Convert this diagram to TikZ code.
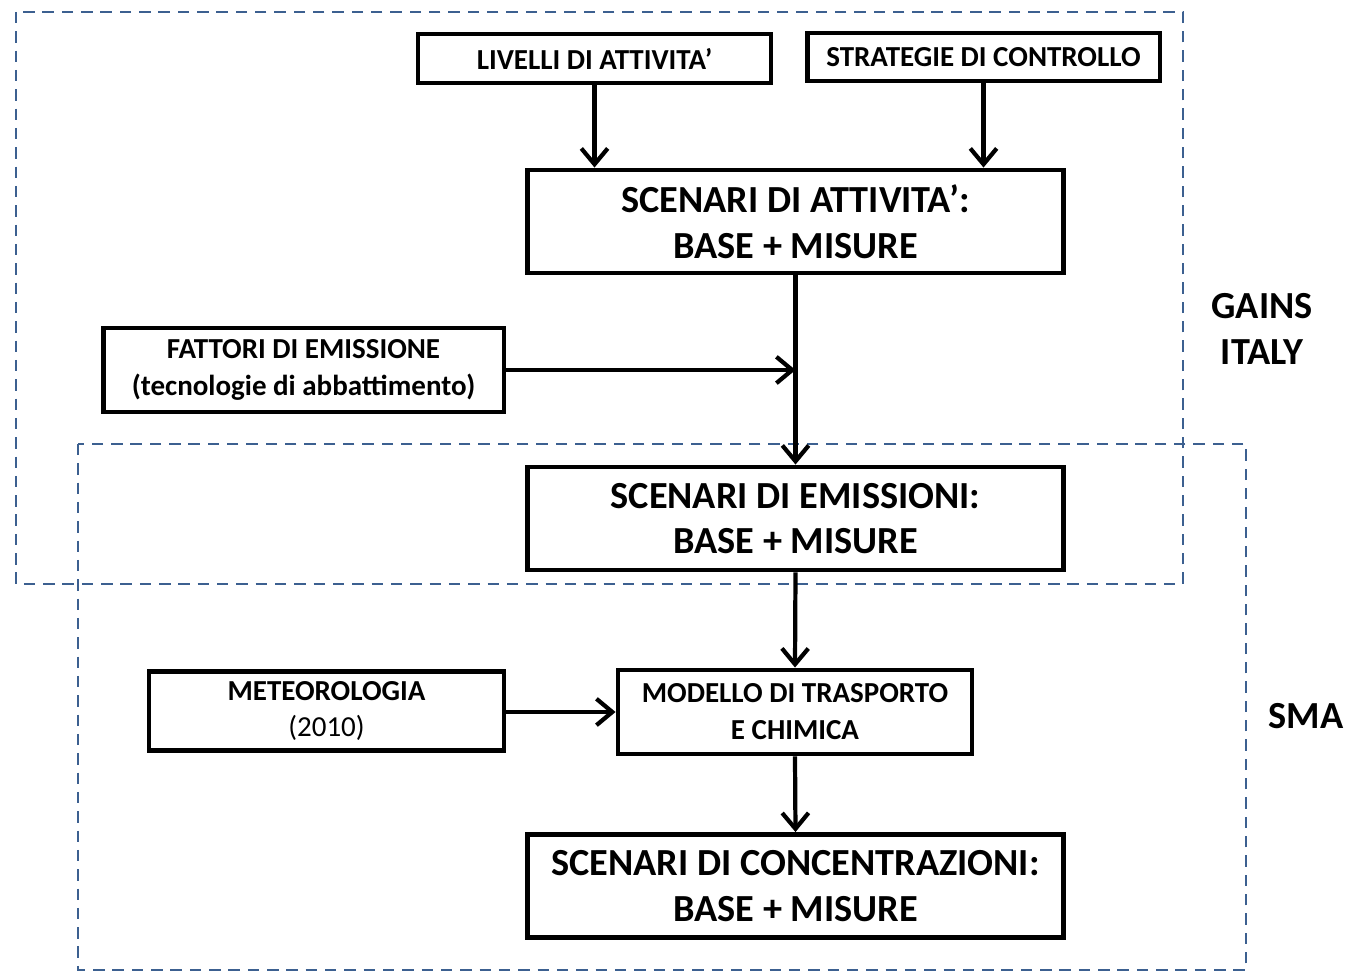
\documentclass[tikz,border=0pt]{standalone}
\usepackage{fontspec}
\setmainfont{Carlito}
\usetikzlibrary{arrows.meta}

\begin{document}
\begin{tikzpicture}[x=0.02cm, y=-0.02cm,
    box/.style={draw, line width=2.8pt, inner sep=0pt, align=center},
    bigbox/.style={box, minimum width=10.74cm, minimum height=2.06cm,
        font=\fontsize{21.8}{26}\selectfont\bfseries},
    smallbox/.style={box, font=\fontsize{16.5}{21}\selectfont\bfseries},
    zone/.style={draw=zonecol, line width=1.4pt, dash pattern=on 6.5pt off 4.5pt},
    zonelabel/.style={align=center, font=\fontsize{21.8}{26}\selectfont\bfseries},
    flow/.style={line width=2.4pt, -{Straight Barb[length=9pt, width=15pt]}}]
    \definecolor{zonecol}{RGB}{60,96,144}
    \useasboundingbox (0,0) rectangle (1347,973);

    % zone riquadrate
    \draw[zone] (16,12) rectangle (1183,584);
    \draw[zone] (78,444) rectangle (1246,970);
    \node[zonelabel] at (1262,329) (gains) {GAINS\\ITALY};
    \node[zonelabel] at (1306,716) (sma) {SMA};

    \node[smallbox, minimum width=7.06cm, minimum height=0.98cm] at (594.5,58.5) (livelli) {LIVELLI DI ATTIVITA'};
    \node[smallbox, minimum width=7.06cm, minimum height=0.96cm] at (983.5,57) (strategie) {STRATEGIE DI CONTROLLO};
    \node[bigbox] at (795.5,221.5) (attivita) {SCENARI DI ATTIVITA':\\BASE + MISURE};
    \node[smallbox, minimum width=8.02cm, minimum height=1.68cm] at (303.5,370) (fattori) {FATTORI DI EMISSIONE\\(tecnologie di abbattimento)};
    \node[bigbox] at (795.5,518.5) (emissioni) {SCENARI DI EMISSIONI:\\BASE + MISURE};
    \node[smallbox, minimum width=7.08cm, minimum height=1.68cm] at (795,712) (modello) {MODELLO DI TRASPORTO\\E CHIMICA};
    \node[smallbox, minimum width=7.1cm, minimum height=1.58cm] at (326.5,711) (meteo) {METEOROLOGIA\\{\mdseries(2010)}};
    \node[bigbox] at (795.5,886) (concentrazioni) {SCENARI DI CONCENTRAZIONI:\\BASE + MISURE};

    \draw[flow] (livelli.south) -- (livelli.south |- attivita.north);
    \draw[flow] (strategie.south) -- (strategie.south |- attivita.north);
    \draw[flow] (attivita.south) -- (emissioni.north);
    \draw[flow] (fattori.east) -- (fattori.east -| attivita.south);
    \draw[flow] (emissioni.south) -- (modello.north);
    \draw[flow] (meteo.east |- modello.west) -- (modello.west);
    \draw[flow] (modello.south) -- (concentrazioni.north);
\end{tikzpicture}
\end{document}
